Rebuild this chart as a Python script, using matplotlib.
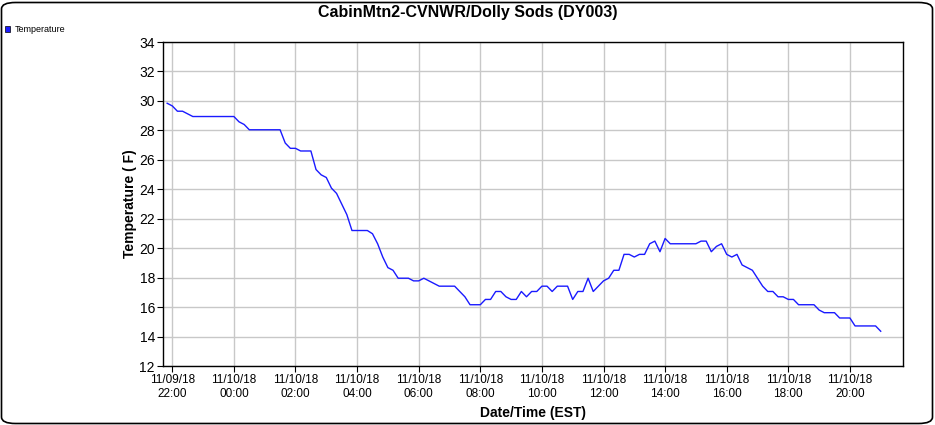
import matplotlib
matplotlib.use("Agg")
import matplotlib.pyplot as plt
import matplotlib.dates as mdates
from matplotlib.patches import FancyBboxPatch
from matplotlib import font_manager
import pandas as pd

# observed readings (breakpoints of the trace), 10-min station data
times = ["2018-11-09 21:50", "2018-11-09 22:00", "2018-11-09 22:10", "2018-11-09 22:20",
         "2018-11-09 22:40", "2018-11-10 00:00", "2018-11-10 00:10", "2018-11-10 00:20",
         "2018-11-10 00:30", "2018-11-10 01:30", "2018-11-10 01:40", "2018-11-10 01:50",
         "2018-11-10 02:00", "2018-11-10 02:10", "2018-11-10 02:30", "2018-11-10 02:40",
         "2018-11-10 02:50", "2018-11-10 03:00", "2018-11-10 03:10", "2018-11-10 03:20",
         "2018-11-10 03:30", "2018-11-10 03:40", "2018-11-10 03:50", "2018-11-10 04:20",
         "2018-11-10 04:30", "2018-11-10 04:40", "2018-11-10 04:50", "2018-11-10 05:00",
         "2018-11-10 05:10", "2018-11-10 05:20", "2018-11-10 05:40", "2018-11-10 05:50",
         "2018-11-10 06:00", "2018-11-10 06:10", "2018-11-10 06:20", "2018-11-10 06:40",
         "2018-11-10 07:10", "2018-11-10 07:20", "2018-11-10 07:30", "2018-11-10 07:40",
         "2018-11-10 08:00", "2018-11-10 08:10", "2018-11-10 08:20", "2018-11-10 08:30",
         "2018-11-10 08:40", "2018-11-10 08:50", "2018-11-10 09:00", "2018-11-10 09:10",
         "2018-11-10 09:20", "2018-11-10 09:30", "2018-11-10 09:40", "2018-11-10 09:50",
         "2018-11-10 10:00", "2018-11-10 10:10", "2018-11-10 10:20", "2018-11-10 10:30",
         "2018-11-10 10:50", "2018-11-10 11:00", "2018-11-10 11:10", "2018-11-10 11:20",
         "2018-11-10 11:30", "2018-11-10 11:40", "2018-11-10 11:50", "2018-11-10 12:00",
         "2018-11-10 12:10", "2018-11-10 12:20", "2018-11-10 12:30", "2018-11-10 12:40",
         "2018-11-10 12:50", "2018-11-10 13:00", "2018-11-10 13:10", "2018-11-10 13:20",
         "2018-11-10 13:30", "2018-11-10 13:40", "2018-11-10 13:50", "2018-11-10 14:00",
         "2018-11-10 14:10", "2018-11-10 15:00", "2018-11-10 15:10", "2018-11-10 15:20",
         "2018-11-10 15:30", "2018-11-10 15:40", "2018-11-10 15:50", "2018-11-10 16:00",
         "2018-11-10 16:10", "2018-11-10 16:20", "2018-11-10 16:30", "2018-11-10 16:40",
         "2018-11-10 16:50", "2018-11-10 17:00", "2018-11-10 17:10", "2018-11-10 17:20",
         "2018-11-10 17:30", "2018-11-10 17:40", "2018-11-10 17:50", "2018-11-10 18:00",
         "2018-11-10 18:10", "2018-11-10 18:20", "2018-11-10 18:50", "2018-11-10 19:00",
         "2018-11-10 19:10", "2018-11-10 19:30", "2018-11-10 19:40", "2018-11-10 20:00",
         "2018-11-10 20:10", "2018-11-10 20:50", "2018-11-10 21:00"]
temps = [29.84, 29.66, 29.3, 29.3,
         28.94, 28.94, 28.58, 28.4,
         28.04, 28.04, 27.14, 26.78,
         26.78, 26.6, 26.6, 25.34,
         24.98, 24.8, 24.08, 23.72,
         23.0, 22.28, 21.2, 21.2,
         20.98, 20.3, 19.4, 18.68,
         18.5, 17.96, 17.96, 17.78,
         17.78, 17.96, 17.78, 17.42,
         17.42, 17.06, 16.7, 16.16,
         16.16, 16.52, 16.52, 17.06,
         17.06, 16.7, 16.52, 16.52,
         17.06, 16.7, 17.06, 17.06,
         17.42, 17.42, 17.06, 17.42,
         17.42, 16.52, 17.06, 17.06,
         17.96, 17.06, 17.42, 17.78,
         17.96, 18.5, 18.5, 19.58,
         19.58, 19.4, 19.58, 19.58,
         20.3, 20.48, 19.76, 20.66,
         20.3, 20.3, 20.48, 20.48,
         19.76, 20.12, 20.3, 19.58,
         19.4, 19.58, 18.86, 18.68,
         18.5, 17.96, 17.42, 17.06,
         17.06, 16.7, 16.7, 16.52,
         16.52, 16.16, 16.16, 15.8,
         15.62, 15.62, 15.26, 15.26,
         14.72, 14.72, 14.36]

title = "CabinMtn2-CVNWR/Dolly Sods (DY003)"
series_name = "Temperature"
y_ticks = [12, 14, 16, 18, 20, 22, 24, 26, 28, 30, 32, 34]

names = {f.name for f in font_manager.fontManager.ttflist}
fam = "Liberation Sans Narrow" if "Liberation Sans Narrow" in names else "Liberation Sans"
plt.rcParams["font.family"] = [fam, "DejaVu Sans"]

t = pd.to_datetime(times)

fig = plt.figure(figsize=(9.35, 4.25), dpi=100)
ax = fig.add_axes([163.3 / 935, 1 - 366 / 425, 740 / 935, 324 / 425])

ax.plot(t, temps, color="#1a1aff", linewidth=1.0)

ax.set_xlim(pd.Timestamp("2018-11-09 21:42:30"), pd.Timestamp("2018-11-10 21:44"))
ax.set_ylim(12, 34)
ax.set_yticks(y_ticks)
ax.xaxis.set_major_locator(mdates.HourLocator(byhour=range(0, 24, 2)))
ax.xaxis.set_major_formatter(mdates.DateFormatter("%m/%d/%y\n%H:%M"))
ax.grid(True, color="#c8c8c8", linewidth=1.0)
ax.set_axisbelow(True)
ax.tick_params(axis="x", labelsize=8.5, length=4, pad=2)
ax.tick_params(axis="y", labelsize=10, length=4, pad=2)
for s in ax.spines.values():
    s.set_color("black")
    s.set_linewidth(1.0)

ax.set_ylabel("Temperature ( F)", fontsize=10, fontweight="bold")
ax.yaxis.set_label_coords(-26 / 740, 0.5)
ax.set_xlabel("Date/Time (EST)", fontsize=10, fontweight="bold", labelpad=4)
fig.text(0.5, 0.970, title, ha="center", va="center", fontsize=11.5, fontweight="bold")

# legend in the top-left corner
fig.patches.append(FancyBboxPatch((5 / 935, 1 - 32 / 425), 5 / 935, 6 / 425,
                                  boxstyle="square,pad=0", transform=fig.transFigure,
                                  facecolor="#1a1aff", edgecolor="black", linewidth=0.5))
fig.text(15 / 935, 1 - 29 / 425, series_name, ha="left", va="center", fontsize=6.5)

# rounded outer border
fig.patches.append(FancyBboxPatch((1.5 / 935, 1.5 / 425), 931 / 935, 421 / 425,
                                  boxstyle="round,pad=0,rounding_size=0.015",
                                  transform=fig.transFigure, facecolor="none",
                                  edgecolor="black", linewidth=1.2))

fig.savefig("out.png", dpi=100)
